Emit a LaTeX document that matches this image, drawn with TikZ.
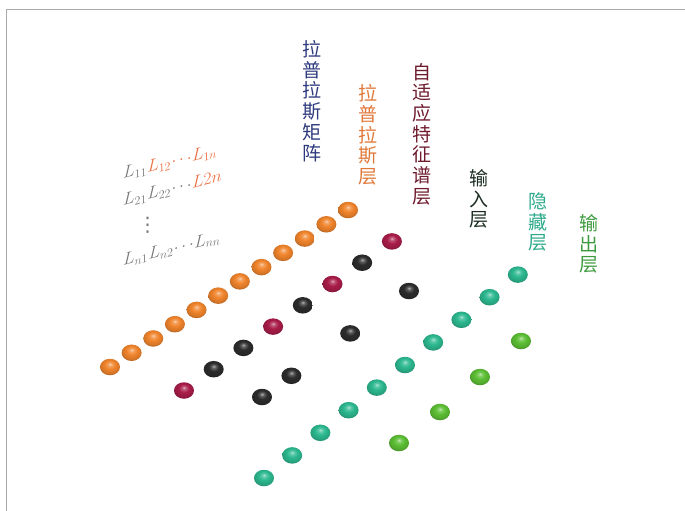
\documentclass[tikz,border=0pt]{standalone}
\usepackage{fontspec}
\newfontfamily\cjk{Noto Sans CJK SC}
\newfontfamily\djv{DejaVu Sans}
\usetikzlibrary{shapes.geometric}
\definecolor{cNavy}{HTML}{2E3A7E}
\definecolor{cOrT}{HTML}{E0783A}
\definecolor{cRedT}{HTML}{6E1A2C}
\definecolor{cInT}{HTML}{1C2E22}
\definecolor{cTealT}{HTML}{2EAA8C}
\definecolor{cGreenT}{HTML}{3E9A3E}
\definecolor{cMatG}{HTML}{787878}
\definecolor{cMatO}{HTML}{EA6E40}
\definecolor{bOrange}{HTML}{F0842C}
\definecolor{bCrimson}{HTML}{A81C48}
\definecolor{bBlack}{HTML}{2C2C2C}
\definecolor{bTeal}{HTML}{2CB890}
\definecolor{bGreen}{HTML}{5CBE34}
\definecolor{frameGray}{HTML}{A8A8A8}
\colorlet{mybc}{bOrange}
\pgfdeclareradialshading[mybc]{sball}{\pgfqpoint{0bp}{9bp}}{%
  color(0bp)=(mybc!35!white); color(5bp)=(mybc!75!white); color(13bp)=(mybc);
  color(24bp)=(mybc!88!black); color(34bp)=(mybc!55!black); color(50bp)=(mybc!40!black)}
\tikzset{
  sph/.style={ellipse, minimum width=20pt, minimum height=16.5pt, inner sep=0pt,
    /utils/exec={\colorlet{mybc}{#1}}, shading=sball},
  vlabel/.style={align=center, font=\cjk\fontsize{19}{20.7}\selectfont, inner sep=0pt},
  mat/.style={anchor=base west, inner sep=0pt, yslant=0.25, font=\fontsize{17.5}{20}\selectfont, text=cMatG},
  mato/.style={mat, text=cMatO},
}
\begin{document}
\begin{tikzpicture}[x=1pt,y=-1pt]
\useasboundingbox (0,0) rectangle (685,511);
\draw[frameGray, line width=1.6pt] (685,9.5) -- (6.3,9.5) -- (6.3,511);

% vertical labels
\node[vlabel, text=cNavy] (lapm) at (312,101) {拉\\普\\拉\\斯\\矩\\阵};
\node[vlabel, text=cOrT] (lapl) at (368,135) {拉\\普\\拉\\斯\\层};
\node[vlabel, text=cRedT] (adap) at (422,134) {自\\适\\应\\特\\征\\谱\\层};
\node[vlabel, text=cInT] (inl) at (479,199) {输\\入\\层};
\node[vlabel, text=cTealT] (hid) at (538,222) {隐\\藏\\层};
\node[vlabel, text=cGreenT] (outl) at (589,244) {输\\出\\层};

% matrix text, row 1
\node[mat]  (m1a) at (123,179) {$L_{11}$};
\node[mato] (m1b) at (m1a.base east) {$L_{12}$};
\node[mato] (m1c) at (m1b.base east) {$\cdots$};
\node[mato] (m1d) at (m1c.base east) {$L_{1n}$};
% row 2
\node[mat]  (m2a) at (123,206) {$L_{21}$};
\node[mat]  (m2b) at (m2a.base east) {$L_{22}$};
\node[mat]  (m2c) at (m2b.base east) {$\cdots$};
\node[mato] (m2d) at (m2c.base east) {$L2n$};
% vertical dots
\node[text=cMatG, inner sep=0pt, font=\djv\fontsize{20}{20}\selectfont] (m3) at (147.5,225) {⋮};
% row n
\node[mat]  (m4a) at (123,266) {$L_{n1}$};
\node[mat]  (m4b) at (m4a.base east) {$L_{n2}$};
\node[mat]  (m4c) at (m4b.base east) {$\cdots$};
\node[mat]  (m4d) at (m4c.base east) {$L_{nn}$};

% Laplacian layer (orange)
\foreach \i in {0,...,11}
  \node[sph=bOrange] (o\i) at ({110+21.64*\i},{367-14.27*\i}) {};

% adaptive eigen layer
\foreach \i/\c in {0/bCrimson,1/bBlack,2/bBlack,3/bCrimson,4/bBlack,5/bCrimson,6/bBlack,7/bCrimson}
  \node[sph=\c] (e\i) at ({184+29.7*\i},{390.5-21.3*\i}) {};

% input layer (black)
\foreach \i in {0,1,3,5}
  \node[sph=bBlack] (b\i) at ({262+29.4*\i},{397-21.2*\i}) {};

% hidden layer (teal)
\foreach \i in {0,...,9}
  \node[sph=bTeal] (h\i) at ({264+28.2*\i},{478-22.6*\i}) {};

% output layer (green)
\node[sph=bGreen] (g0) at (399,443) {};
\node[sph=bGreen] (g1) at (440,412) {};
\node[sph=bGreen] (g2) at (480,377) {};
\node[sph=bGreen] (g3) at (521,341) {};
\end{tikzpicture}
\end{document}
